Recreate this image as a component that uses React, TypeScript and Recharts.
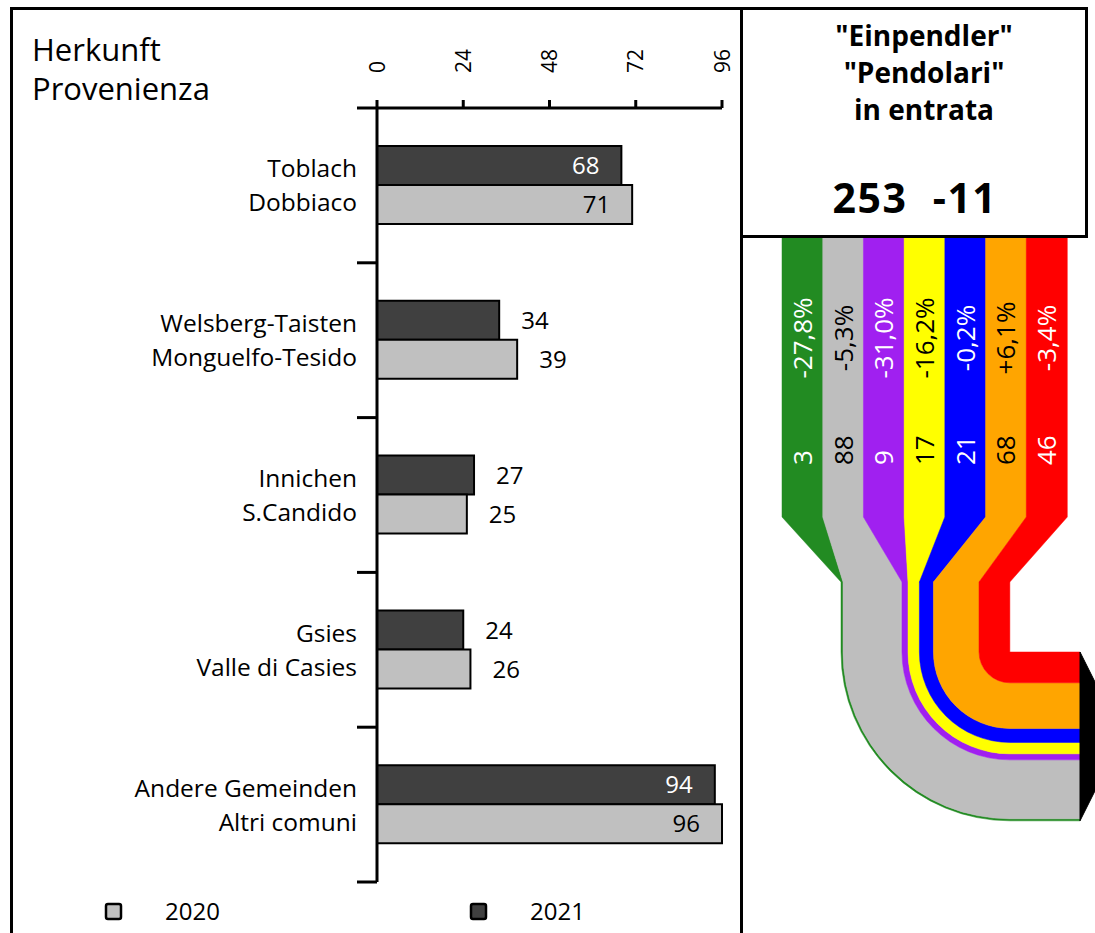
import { BarChart, Bar, XAxis, YAxis, LabelList } from 'recharts'

const FONT = '"Open Sans", "Noto Sans", sans-serif'

// Herkunft / Provenienza
const originsDe = ['Toblach', 'Welsberg-Taisten', 'Innichen', 'Gsies', 'Andere Gemeinden']
const originsIt = ['Dobbiaco', 'Monguelfo-Tesido', 'S.Candido', 'Valle di Casies', 'Altri comuni']
const commuters2021 = [68, 34, 27, 24, 94]
const commuters2020 = [71, 39, 25, 26, 96]
const axisTicks = [0, 24, 48, 72, 96]
const bandEdges = [0, 1, 2, 3, 4, 5]

// Einpendler nach Bereich
const flowCounts = [3, 88, 9, 17, 21, 68, 46]
const flowChanges = ['-27,8%', '-5,3%', '-31,0%', '-16,2%', '-0,2%', '+6,1%', '-3,4%']
const flowColors = ['#228b22', '#bebebe', '#a020f0', '#ffff00', '#0000ff', '#ffa500', '#ff0000']
const flowTextColors = ['#fff', '#000', '#fff', '#000', '#fff', '#000', '#fff']

const totalCommuters = 253
const totalChange = -11

const originData = originsDe.map((de, i) => ({
  de,
  it: originsIt[i],
  v2021: commuters2021[i],
  v2020: commuters2020[i],
  edge: 0,
}))

const flowData = flowCounts.map((count, i) => ({
  key: String(i),
  count,
  change: flowChanges[i],
  before: flowCounts.slice(0, i).reduce((s, v) => s + v, 0),
}))
const flowSum = flowCounts.reduce((s, v) => s + v, 0)

// left chart frame
const LEFT_W = 740
const LEFT_H = 933
const LEFT_MARGIN = { top: 48, right: 18, bottom: 51, left: 0 }

// flow geometry (right chart svg coordinates)
const COL_TOP = 237
const COL_BOTTOM = 517
const MERGE_Y = 582
const BEND_Y = 652
const MERGE_LEFT = 99
const EXIT_X = 338
const PX_PER = 0.67

function boxOf(p: any) {
  return { ...p, ...(p.viewBox || {}) }
}

function XTick({ x, payload }: any) {
  return (
    <text
      transform={`translate(${x},73) rotate(-90)`}
      textAnchor="start"
      dy="0.36em"
      fontSize={21}
      fontFamily={FONT}
      fill="#000"
    >
      {payload.value}
    </text>
  )
}

function CatTick({ y, index }: any) {
  return (
    <text textAnchor="end" fontSize={24.5} fontFamily={FONT} fill="#000">
      <tspan x={357} y={y - 8}>{originsDe[index]}</tspan>
      <tspan x={357} y={y + 26}>{originsIt[index]}</tspan>
    </text>
  )
}

function barLabel(insideColor: string) {
  return (p: any) => {
    const { x, y, width, height, value } = boxOf(p)
    const inside = value > 60
    return (
      <text
        x={inside ? x + width - 22 : x + width + 22}
        y={y + height / 2}
        dy="0.36em"
        textAnchor={inside ? 'end' : 'start'}
        fill={inside ? insideColor : '#000'}
        fontSize={24}
        fontFamily={FONT}
      >
        {value}
      </text>
    )
  }
}

function FlowBand(props: any) {
  const { x, width, index } = props
  const d = props.payload ?? flowData[index]
  const a = MERGE_LEFT + d.before * PX_PER
  const b = a + d.count * PX_PER
  const cornerX = MERGE_LEFT + flowSum * PX_PER
  const ro = cornerX - a
  const ri = cornerX - b
  const color = flowColors[index]
  const funnel = `M${x},${COL_TOP} L${x + width},${COL_TOP} L${x + width},${COL_BOTTOM} L${b},${MERGE_Y} L${a},${MERGE_Y} L${x},${COL_BOTTOM} Z`
  const bend = `M${a},${MERGE_Y} L${b},${MERGE_Y} L${b},${BEND_Y} A${ri},${ri} 0 0 0 ${cornerX},${BEND_Y + ri} L${EXIT_X},${BEND_Y + ri} L${EXIT_X},${BEND_Y + ro} L${cornerX},${BEND_Y + ro} A${ro},${ro} 0 0 1 ${a},${BEND_Y} Z`
  const isLast = index === flowCounts.length - 1
  const h = flowSum * PX_PER
  return (
    <g>
      <path d={funnel} fill={color} stroke={color} strokeWidth={0.5} />
      <path d={bend} fill={color} stroke={color} strokeWidth={0.5} />
      {isLast && (
        <path
          d={`M${EXIT_X},${BEND_Y} L${EXIT_X + h / 4},${BEND_Y + h / 2} L${EXIT_X},${BEND_Y + h} Z`}
          fill="#000"
          stroke="#000"
          strokeWidth={1}
        />
      )}
    </g>
  )
}

function pctLabel(p: any) {
  const { x, width, index, value } = boxOf(p)
  const cx = x + width / 2
  return (
    <text
      transform={`translate(${cx},338) rotate(-90)`}
      textAnchor="middle"
      dy="0.36em"
      fill={flowTextColors[index]}
      fontSize={26}
      fontFamily={FONT}
    >
      {value}
    </text>
  )
}

function countLabel(p: any) {
  const { x, width, index, value } = boxOf(p)
  const cx = x + width / 2
  return (
    <text
      transform={`translate(${cx},465) rotate(-90)`}
      textAnchor="start"
      dy="0.36em"
      fill={flowTextColors[index]}
      fontSize={26}
      fontFamily={FONT}
    >
      {value}
    </text>
  )
}

export default function App() {
  return (
    <div
      style={{
        position: 'absolute',
        left: 0,
        top: 0,
        width: 1095,
        height: 933,
        overflow: 'hidden',
        background: '#fff',
        fontFamily: FONT,
      }}
    >
      <div style={{ position: 'absolute', left: 0, top: 0 }}>
        <BarChart
          layout="vertical"
          width={LEFT_W}
          height={LEFT_H}
          data={originData}
          margin={LEFT_MARGIN}
          barGap={0}
          barSize={39}
        >
          <XAxis
            type="number"
            orientation="top"
            domain={[0, 96]}
            ticks={axisTicks}
            interval={0}
            height={60}
            tickSize={8}
            axisLine={{ stroke: '#000', strokeWidth: 3 }}
            tickLine={{ stroke: '#000', strokeWidth: 3 }}
            tick={<XTick />}
          />
          <YAxis
            type="category"
            dataKey="de"
            width={377}
            axisLine={false}
            tickLine={false}
            interval={0}
            tick={<CatTick />}
          />
          <Bar dataKey="v2021" fill="#404040" stroke="#000" strokeWidth={2} isAnimationActive={false}>
            <LabelList dataKey="v2021" content={barLabel('#fff')} />
          </Bar>
          <Bar dataKey="v2020" fill="#c0c0c0" stroke="#000" strokeWidth={2} isAnimationActive={false}>
            <LabelList dataKey="v2020" content={barLabel('#000')} />
          </Bar>
        </BarChart>
      </div>

      {/* category separators on the vertical axis */}
      <div style={{ position: 'absolute', left: 0, top: 0, pointerEvents: 'none' }}>
        <BarChart
          width={LEFT_W}
          height={LEFT_H}
          data={originData}
          margin={{ top: 108, right: 18, bottom: 51, left: 357 }}
        >
          <XAxis dataKey="de" hide />
          <YAxis
            type="number"
            domain={[0, 5]}
            ticks={bandEdges}
            interval={0}
            width={20}
            tickSize={20}
            axisLine={{ stroke: '#000', strokeWidth: 3 }}
            tickLine={{ stroke: '#000', strokeWidth: 3 }}
            tick={() => <g />}
          />
          <Bar dataKey="edge" fill="none" isAnimationActive={false} />
        </BarChart>
      </div>

      <div style={{ position: 'absolute', left: 742, top: 0 }}>
        <BarChart
          width={353}
          height={933}
          data={flowData}
          margin={{ top: COL_TOP, right: 28, bottom: 0, left: 40 }}
          barCategoryGap={0}
        >
          <XAxis dataKey="key" hide />
          <YAxis hide domain={[0, 100]} />
          <Bar dataKey="count" shape={<FlowBand />} isAnimationActive={false}>
            <LabelList dataKey="change" content={pctLabel} />
            <LabelList dataKey="count" content={countLabel} />
          </Bar>
        </BarChart>
      </div>

      <svg
        width={1095}
        height={933}
        style={{ position: 'absolute', left: 0, top: 0, pointerEvents: 'none' }}
        fontFamily={FONT}
      >
        <text x={32} y={61} fontSize={31} fill="#000">Herkunft</text>
        <text x={32} y={100} fontSize={31} fill="#000">Provenienza</text>

        <text x={924} y={46} fontSize={28} fontWeight={700} textAnchor="middle">"Einpendler"</text>
        <text x={924} y={83} fontSize={28} fontWeight={700} textAnchor="middle">"Pendolari"</text>
        <text x={924} y={120} fontSize={28} fontWeight={700} textAnchor="middle">in entrata</text>
        <text x={870} y={213} fontSize={41} fontWeight={700} letterSpacing={1.5} textAnchor="middle">{totalCommuters}</text>
        <text x={965} y={213} fontSize={41} fontWeight={700} letterSpacing={1.5} textAnchor="middle">{totalChange}</text>

        <rect x={106} y={904} width={15} height={15} rx={2} fill="#c0c0c0" stroke="#000" strokeWidth={2.5} />
        <text x={165} y={920} fontSize={24}>2020</text>
        <rect x={471} y={904} width={15} height={15} rx={2} fill="#404040" stroke="#000" strokeWidth={2.5} />
        <text x={530} y={920} fontSize={24}>2021</text>
      </svg>

      <div
        style={{
          position: 'absolute',
          left: 10,
          top: 7,
          width: 733,
          height: 960,
          border: '3px solid #000',
          boxSizing: 'border-box',
        }}
      />
      <div
        style={{
          position: 'absolute',
          left: 740,
          top: 7,
          width: 348,
          height: 231,
          border: '3px solid #000',
          boxSizing: 'border-box',
          background: 'transparent',
        }}
      />
    </div>
  )
}
